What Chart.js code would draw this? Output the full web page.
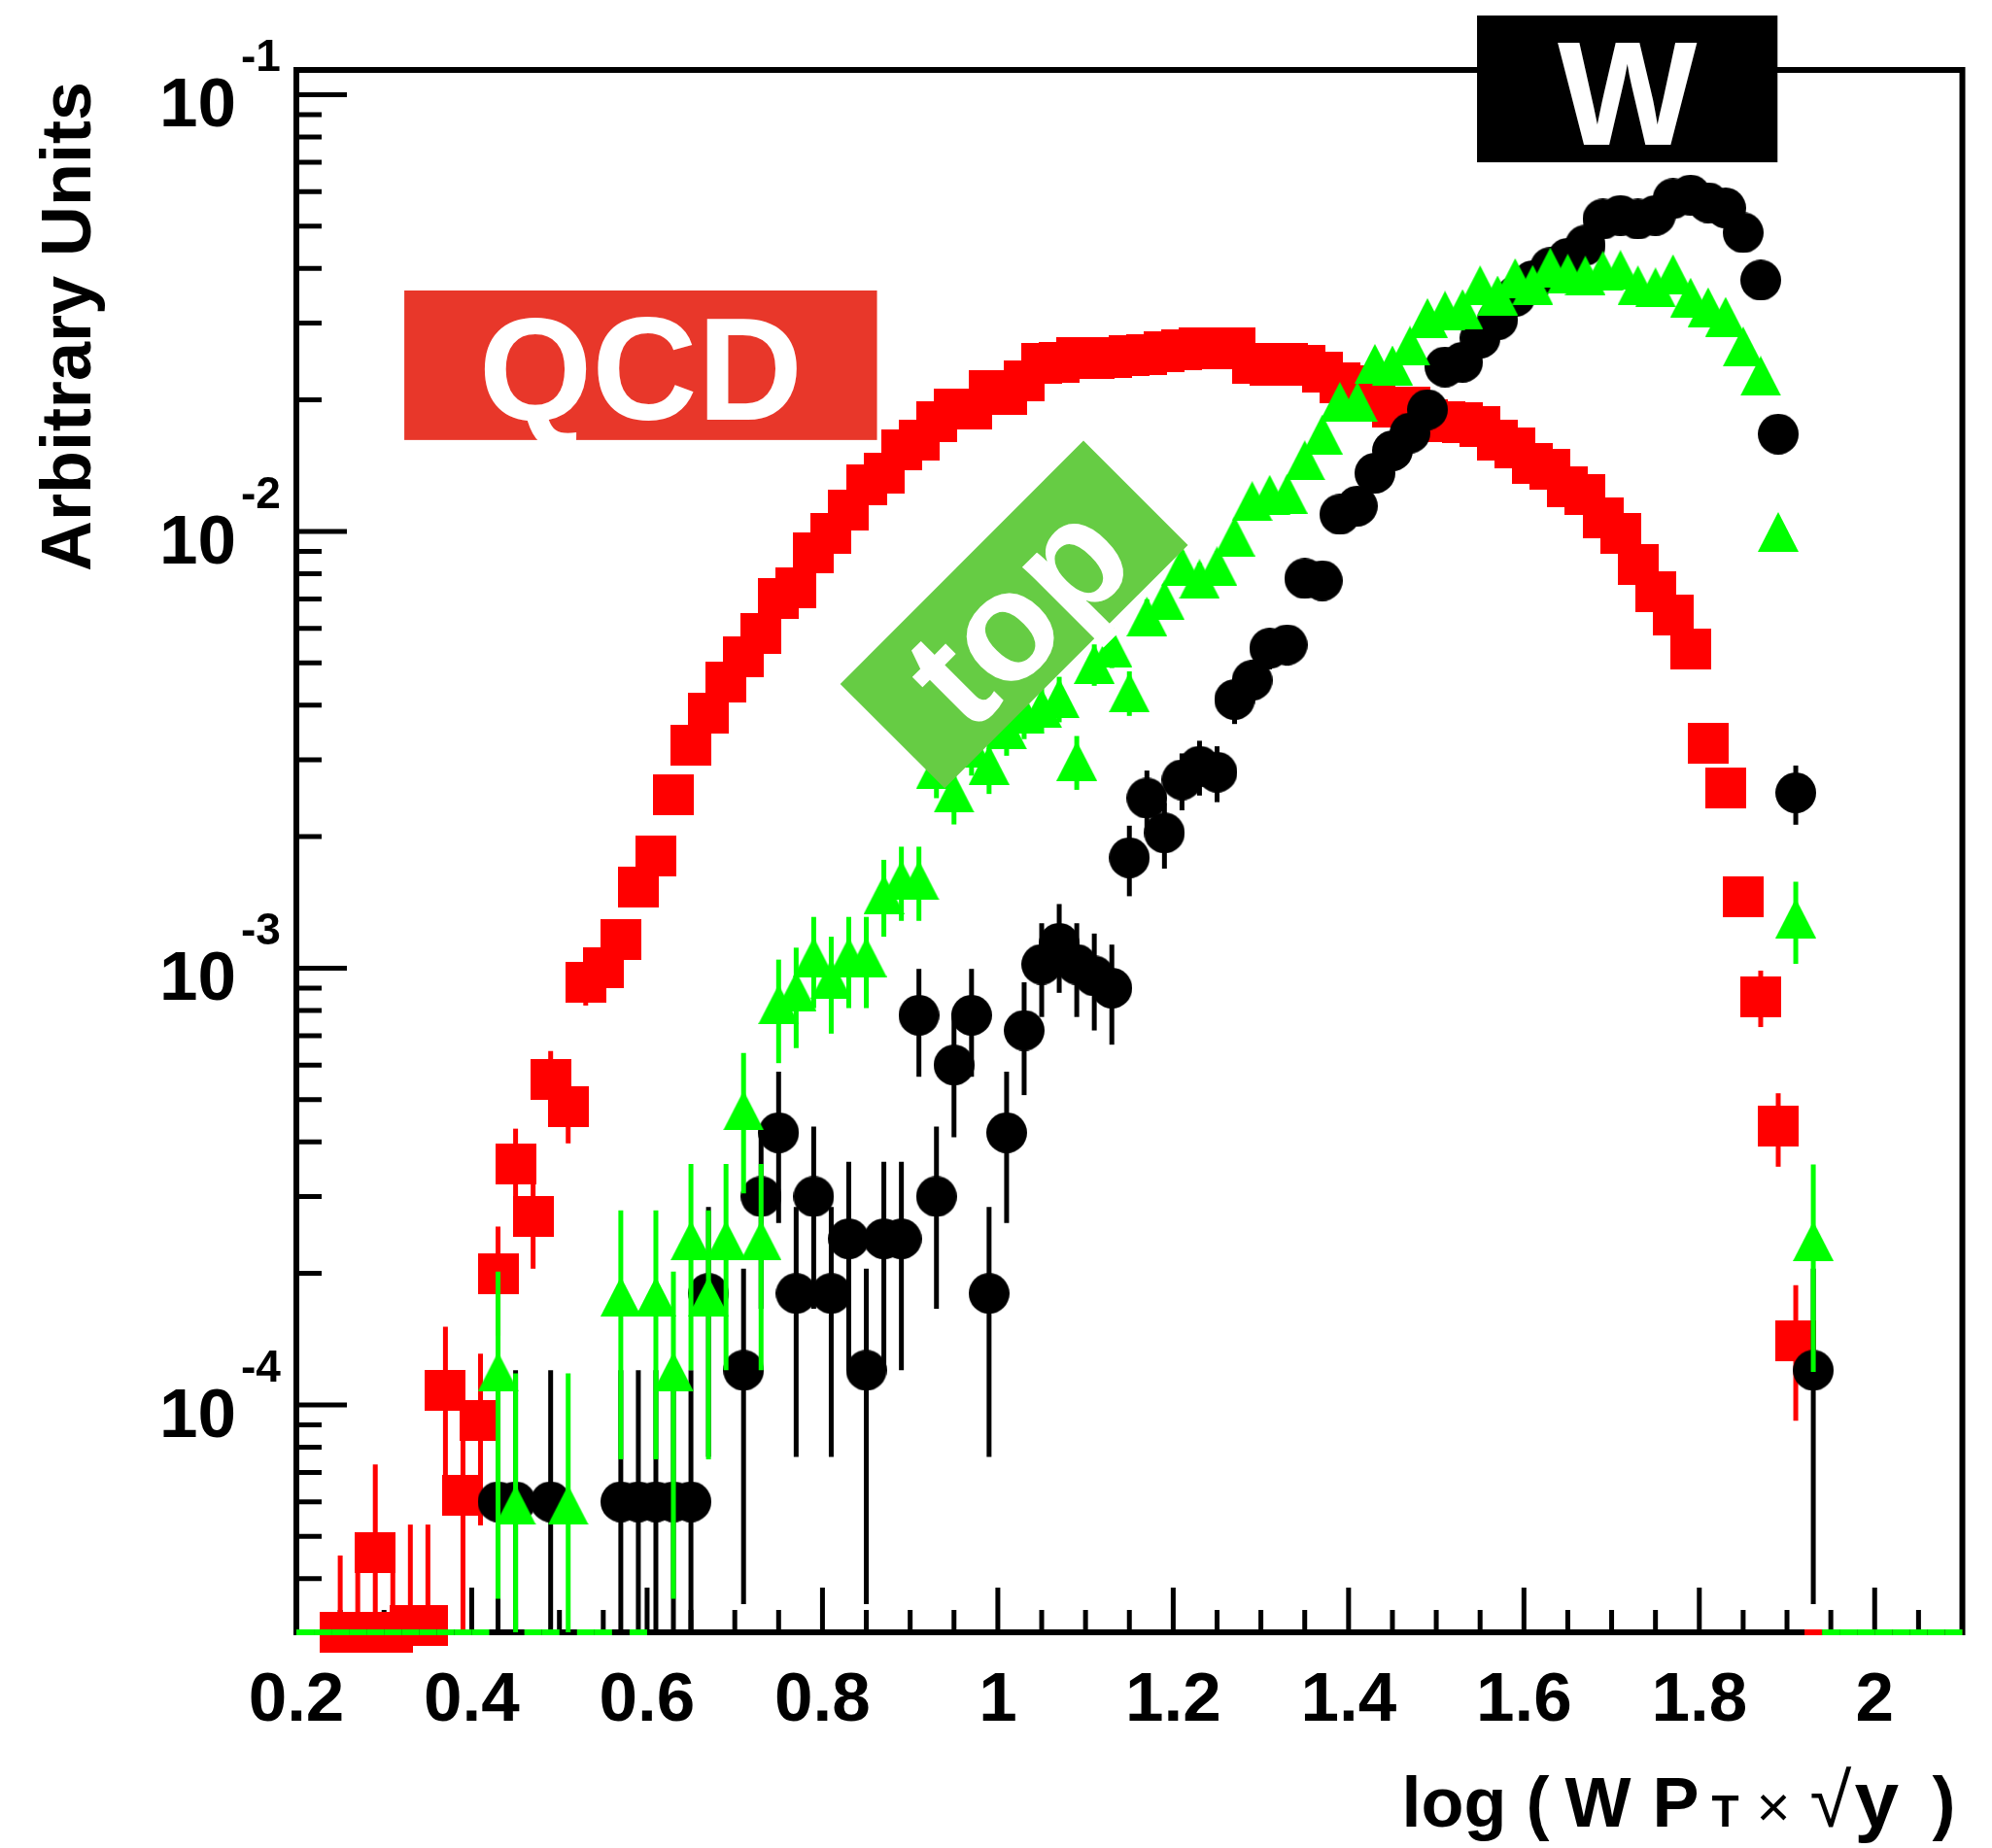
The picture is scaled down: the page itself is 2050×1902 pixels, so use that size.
<!DOCTYPE html>
<html>
<head>
<meta charset="utf-8">
<title>W / QCD / top</title>
<script src="https://cdn.jsdelivr.net/npm/chart.js"></script>
<style>
  html, body { margin: 0; padding: 0; background: #fff; }
  canvas { display: block; }
</style>
</head>
<body>
<canvas id="chart" width="2050" height="1902"></canvas>
<script>
// bin centres of log(W pT x sqrt(y)), bin width 0.02
const binCenters = [
  0.21,0.23,0.25,0.27,0.29,0.31,0.33,0.35,0.37,0.39,
  0.41,0.43,0.45,0.47,0.49,0.51,0.53,0.55,0.57,0.59,
  0.61,0.63,0.65,0.67,0.69,0.71,0.73,0.75,0.77,0.79,
  0.81,0.83,0.85,0.87,0.89,0.91,0.93,0.95,0.97,0.99,
  1.01,1.03,1.05,1.07,1.09,1.11,1.13,1.15,1.17,1.19,
  1.21,1.23,1.25,1.27,1.29,1.31,1.33,1.35,1.37,1.39,
  1.41,1.43,1.45,1.47,1.49,1.51,1.53,1.55,1.57,1.59,
  1.61,1.63,1.65,1.67,1.69,1.71,1.73,1.75,1.77,1.79,
  1.81,1.83,1.85,1.87,1.89,1.91,1.93,1.95,1.97,1.99,
  2.01,2.03,2.05,2.07,2.09
]

// QCD (red squares)
const qcdValues = [
  0,0,3.02e-5,3.02e-5,4.6e-5,3.02e-5,3.12e-5,3.12e-5,1.08e-4,6.2e-5,
  9.2e-5,2.0e-4,3.56e-4,2.7e-4,5.56e-4,4.81e-4,9.27e-4,1.00e-3,1.16e-3,1.53e-3,
  1.81e-3,2.49e-3,3.24e-3,3.84e-3,4.51e-3,5.16e-3,5.85e-3,7.03e-3,7.41e-3,8.93e-3,
  9.88e-3,0.0112,0.0128,0.0136,0.0154,0.0162,0.0178,0.0191,0.0191,0.0210,
  0.0206,0.0221,0.0243,0.0244,0.0250,0.0249,0.0250,0.0252,0.0254,0.0258,
  0.0260,0.0263,0.0262,0.0263,0.0243,0.0240,0.0243,0.0240,0.0231,0.0219,
  0.0215,0.0210,0.0193,0.0193,0.0180,0.0178,0.0177,0.0174,0.0162,0.01555,
  0.01433,0.01387,0.01265,0.01214,0.01075,0.0099,0.0084,0.00726,0.00642,0.00538,
  3.28e-3,2.59e-3,1.456e-3,8.6e-4,4.34e-4,1.40e-4,0,0,0,0,
  0,0,0,0,0
]
const qcdErrors = [
  0,0,1.5e-5,1.5e-5,2.7e-5,1.5e-5,2.2e-5,2.2e-5,4.3e-5,3.4e-5,
  3.9e-5,5.6e-5,7.3e-5,6.5e-5,9.0e-5,8.4e-5,1.06e-4,1.1e-4,1.2e-4,1.3e-4,
  0,0,0,0,0,0,0,0,0,0,
  0,0,0,0,0,0,0,0,0,0,
  0,0,0,0,0,0,0,0,0,0,
  0,0,0,0,0,0,0,0,0,0,
  0,0,0,0,0,0,0,0,0,0,
  0,0,0,0,0,0,0,0,0,0,
  0,0,0,1.27e-4,8.3e-5,4.8e-5,0,0,0,0,
  0,0,0,0,0
]

// W (black circles)
const wValues = [
  0,0,0,0,0,0,0,0,0,0,
  0,6.0e-5,6.0e-5,0,6.0e-5,0,0,0,6.0e-5,6.0e-5,
  6.0e-5,6.0e-5,6.0e-5,1.8e-4,0,1.2e-4,3.0e-4,4.2e-4,1.8e-4,3.0e-4,
  1.8e-4,2.4e-4,1.2e-4,2.4e-4,2.4e-4,7.8e-4,3.0e-4,6.0e-4,7.8e-4,1.8e-4,
  4.2e-4,7.2e-4,1.02e-3,1.14e-3,1.02e-3,9.6e-4,9.0e-4,1.79e-3,2.45e-3,2.04e-3,
  2.70e-3,2.90e-3,2.81e-3,4.12e-3,4.56e-3,5.40e-3,5.50e-3,7.80e-3,7.71e-3,0.01094,
  0.01143,0.01359,0.0153,0.0168,0.0190,0.0238,0.0244,0.0277,0.0305,0.0345,
  0.0375,0.0402,0.0422,0.0452,0.0519,0.0529,0.0519,0.0529,0.0578,0.0589,
  0.0566,0.0550,0.0483,0.0376,0.0167,2.52e-3,1.20e-4,0,0,0,
  0,0,0,0,0
]
const wErrors = [
  0,0,0,0,0,0,0,0,0,0,
  0,6.0e-5,6.0e-5,0,6.0e-5,0,0,0,6.0e-5,6.0e-5,
  6.0e-5,6.0e-5,6.0e-5,1.04e-4,0,8.5e-5,1.34e-4,1.59e-4,1.04e-4,1.34e-4,
  1.04e-4,1.2e-4,8.5e-5,1.2e-4,1.2e-4,2.16e-4,1.34e-4,1.9e-4,2.16e-4,1.04e-4,
  1.59e-4,2.08e-4,2.47e-4,2.62e-4,2.47e-4,2.4e-4,2.32e-4,3.29e-4,3.84e-4,3.5e-4,
  4.02e-4,4.16e-4,4.11e-4,4.98e-4,5.23e-4,5.69e-4,5.75e-4,6.84e-4,6.8e-4,8.1e-4,
  8.3e-4,9.0e-4,9.6e-4,1.0e-3,1.07e-3,0,0,0,0,0,
  0,0,0,0,0,0,0,0,0,0,
  0,0,0,0,0,3.9e-4,8.5e-5,0,0,0,
  0,0,0,0,0
]

// top (green triangles)
const topValues = [
  0,0,0,0,0,0,0,0,0,0,
  0,1.19e-4,5.9e-5,0,0,5.9e-5,0,0,1.77e-4,0,
  1.77e-4,1.19e-4,2.38e-4,1.77e-4,2.38e-4,4.72e-4,2.38e-4,8.26e-4,8.85e-4,1.06e-3,
  9.44e-4,1.06e-3,1.06e-3,1.475e-3,1.59e-3,1.59e-3,2.86e-3,2.52e-3,3.2e-3,2.92e-3,
  3.52e-3,3.82e-3,3.94e-3,4.15e-3,2.98e-3,4.97e-3,5.43e-3,4.28e-3,6.38e-3,6.95e-3,
  8.32e-3,7.78e-3,8.32e-3,9.74e-3,0.01173,0.01213,0.0122,0.01455,0.01667,0.0198,
  0.0198,0.0242,0.0240,0.0266,0.0308,0.0320,0.0323,0.0366,0.0347,0.0380,
  0.0367,0.0402,0.0389,0.0385,0.0395,0.0397,0.0366,0.0362,0.0388,0.0343,
  0.0326,0.0310,0.0265,0.0227,9.97e-3,1.30e-3,2.37e-4,0,0,0,
  0,0,0,0,0
]
const topErrors = [
  0,0,0,0,0,0,0,0,0,0,
  0,8.3e-5,5.9e-5,0,0,5.9e-5,0,0,1.02e-4,0,
  1.02e-4,8.3e-5,1.18e-4,1.02e-4,1.18e-4,1.67e-4,1.18e-4,2.2e-4,2.29e-4,2.5e-4,
  2.36e-4,2.5e-4,2.5e-4,2.95e-4,3.07e-4,3.07e-4,4.1e-4,3.87e-4,4.4e-4,4.15e-4,
  4.56e-4,4.75e-4,4.82e-4,4.95e-4,4.2e-4,5.4e-4,5.66e-4,5.0e-4,6.1e-4,6.4e-4,
  7.0e-4,6.8e-4,7.0e-4,7.6e-4,8.3e-4,8.5e-4,8.5e-4,9.3e-4,9.9e-4,1.08e-3,
  0,0,0,0,0,0,0,0,0,0,
  0,0,0,0,0,0,0,0,0,0,
  0,0,0,0,0,2.77e-4,1.18e-4,0,0,0,
  0,0,0,0,0
]

const xTickValues = [0.2,0.4,0.6,0.8,1.0,1.2,1.4,1.6,1.8,2.0]
const xTickLabels = ['0.2','0.4','0.6','0.8','1','1.2','1.4','1.6','1.8','2']
const yTickExponents = [-1,-2,-3,-4]

const FONT = '"Liberation Sans", Arial, Helvetica, sans-serif'

function makeMarker(kind, color) {
  const c = document.createElement("canvas")
  c.width = 42
  c.height = kind === "triangle" ? 41 : 42
  const g = c.getContext("2d")
  g.fillStyle = color
  g.beginPath()
  if (kind === "square") {
    g.rect(0, 0, 42, 42)
  } else if (kind === "circle") {
    g.arc(21, 21, 21, 0, Math.PI * 2)
  } else {
    g.moveTo(0, 41)
    g.lineTo(42, 41)
    g.lineTo(21, 0)
    g.closePath()
  }
  g.fill()
  return c
}

function toPoints(values) {
  return binCenters.map((x, i) => ({ x: x, y: values[i] > 0 ? values[i] : null }))
}

// frame and inward ROOT style ticks, drawn under the markers
function drawFrame(chart) {
  const ctx = chart.ctx
  const a = chart.chartArea
  const xs = chart.scales.x
  const ys = chart.scales.y
  ctx.save()
  ctx.strokeStyle = "#000"
  ctx.lineWidth = 6
  ctx.strokeRect(a.left, a.top, a.right - a.left, a.bottom - a.top)

  ctx.lineWidth = 5
  ctx.beginPath()
  for (let i = 1; i < 38; i++) {
    const px = xs.getPixelForValue(0.2 + i * 0.05)
    const len = i % 4 === 0 ? 46 : 23
    ctx.moveTo(px, a.bottom)
    ctx.lineTo(px, a.bottom - len)
  }
  for (let e = -5; e <= -1; e++) {
    for (let m = 1; m <= 9; m++) {
      const v = m * Math.pow(10, e)
      if (v < ys.min || v > ys.max) continue
      const py = ys.getPixelForValue(v)
      ctx.moveTo(a.left, py)
      ctx.lineTo(a.left + (m === 1 ? 52 : 26), py)
    }
  }
  ctx.stroke()

  ctx.fillStyle = "#000"
  ctx.font = "bold 71px " + FONT
  ctx.textAlign = "center"
  ctx.textBaseline = "alphabetic"
  xTickValues.forEach((v, i) => {
    ctx.fillText(xTickLabels[i], xs.getPixelForValue(v), a.bottom + 91)
  })

  yTickExponents.forEach(e => {
    const py = ys.getPixelForValue(Math.pow(10, e))
    ctx.font = "bold 71px " + FONT
    ctx.textAlign = "right"
    ctx.fillText("10", a.left - 62, py + 33)
    ctx.font = "bold 46px " + FONT
    ctx.textAlign = "left"
    ctx.fillText(String(e), a.left - 57, py - 24)
  })

  // y title
  ctx.save()
  ctx.translate(93, 84)
  ctx.rotate(-Math.PI / 2)
  ctx.font = "bold 72px " + FONT
  ctx.textAlign = "right"
  ctx.fillText("Arbitrary Units", 0, 0)
  ctx.restore()

  // x title: log ( W P_T x sqrt y ), each token placed from the right edge of the frame
  const parts = [
    { t: "log", f: "bold 72px " + FONT, dx: -577 },
    { t: "(", f: "bold 72px " + FONT, dx: -449 },
    { t: "W", f: "bold 72px " + FONT, dx: -409 },
    { t: "P", f: "bold 72px " + FONT, dx: -319 },
    { t: "T", f: "bold 46px " + FONT, dx: -258 },
    { t: "\u00d7", f: "60px " + FONT, dx: -212 },
    { t: "\u221a", f: "78px " + FONT, dx: -157 },
    { t: "y", f: "bold 82px " + FONT, dx: -111 },
    { t: ")", f: "bold 72px " + FONT, dx: -31 }
  ]
  ctx.textAlign = "left"
  parts.forEach(p => {
    ctx.font = p.f
    ctx.fillText(p.t, a.right + p.dx, 1880)
  })
  ctx.restore()
}

// vertical error bars, and bars along the axis for empty bins
function drawErrors(chart, index) {
  const ds = chart.data.datasets[index]
  const ctx = chart.ctx
  const a = chart.chartArea
  const xs = chart.scales.x
  const ys = chart.scales.y
  ctx.save()
  ctx.strokeStyle = ds.markerColor
  ctx.lineCap = "butt"
  binCenters.forEach((x, i) => {
    const v = ds.values[i]
    const e = ds.errors[i]
    if (v <= 0) {
      ctx.lineWidth = 6
      ctx.beginPath()
      ctx.moveTo(xs.getPixelForValue(x - 0.01), a.bottom)
      ctx.lineTo(xs.getPixelForValue(x + 0.01), a.bottom)
      ctx.stroke()
      return
    }
    if (!e) return
    const px = xs.getPixelForValue(x)
    const top = ys.getPixelForValue(v + e)
    const low = v - e
    const bot = low > ys.min ? ys.getPixelForValue(low) : a.bottom
    ctx.lineWidth = 5
    ctx.beginPath()
    ctx.moveTo(px, top)
    ctx.lineTo(px, bot)
    ctx.stroke()
  })
  ctx.restore()
}

// sample labels, drawn over the markers
function drawLabels(chart) {
  const ctx = chart.ctx
  const xs = chart.scales.x
  const ys = chart.scales.y
  ctx.save()
  ctx.textAlign = "center"
  ctx.textBaseline = "alphabetic"

  let l = xs.getPixelForValue(0.3231), r = xs.getPixelForValue(0.8622)
  let t = ys.getPixelForValue(0.03561), b = ys.getPixelForValue(0.01619)
  ctx.fillStyle = "#e8372a"
  ctx.fillRect(l, t, r - l, b - t)
  ctx.fillStyle = "#fff"
  ctx.font = "bold 150px " + FONT
  ctx.fillText("QCD", (l + r) / 2, b - 21)

  const cx = xs.getPixelForValue(1.0185)
  const cy = ys.getPixelForValue(0.006452)
  ctx.save()
  ctx.translate(cx, cy)
  ctx.rotate(-Math.PI / 4)
  ctx.fillStyle = "#66cc44"
  ctx.fillRect(-177, -76, 354, 152)
  ctx.fillStyle = "#fff"
  ctx.font = "bold 160px " + FONT
  ctx.fillText("top", 3, 56)
  ctx.restore()

  l = xs.getPixelForValue(1.5465); r = xs.getPixelForValue(1.8892)
  t = ys.getPixelForValue(0.1518); b = ys.getPixelForValue(0.0700)
  ctx.fillStyle = "#000"
  ctx.fillRect(l, t, r - l, b - t)
  ctx.fillStyle = "#fff"
  ctx.font = "bold 152px " + FONT
  ctx.fillText("W", (l + r) / 2, b - 18)
  ctx.restore()
}

const rootStyle = {
  id: "rootStyle",
  beforeDatasetsDraw(chart) { drawFrame(chart) },
  beforeDatasetDraw(chart, args) { drawErrors(chart, args.index) },
  afterDatasetsDraw(chart) { drawLabels(chart) }
}

const chart = new Chart(document.getElementById("chart").getContext("2d"), {
  type: "scatter",
  data: {
    datasets: [
      { label: "QCD", data: toPoints(qcdValues), values: qcdValues, errors: qcdErrors, markerColor: "#ff0000",
        pointStyle: makeMarker("square", "#ff0000"), pointRadius: 21, order: 3, clip: false },
      { label: "W", data: toPoints(wValues), values: wValues, errors: wErrors, markerColor: "#000000",
        pointStyle: makeMarker("circle", "#000000"), pointRadius: 21, order: 2, clip: false },
      { label: "top", data: toPoints(topValues), values: topValues, errors: topErrors, markerColor: "#00ff00",
        pointStyle: makeMarker("triangle", "#00ff00"), pointRadius: 21, order: 1, clip: false }
    ]
  },
  options: {
    responsive: false,
    animation: false,
    devicePixelRatio: 1,
    events: [],
    layout: { padding: { left: 305, right: 30.5, top: 72, bottom: 222 } },
    plugins: { legend: { display: false }, tooltip: { enabled: false } },
    scales: {
      x: { type: "linear", display: false, min: 0.2, max: 2.1, bounds: "data" },
      y: { type: "logarithmic", display: false, min: 3.015e-5, max: 0.1139, bounds: "data" }
    }
  },
  plugins: [rootStyle]
})
</script>
</body>
</html>
